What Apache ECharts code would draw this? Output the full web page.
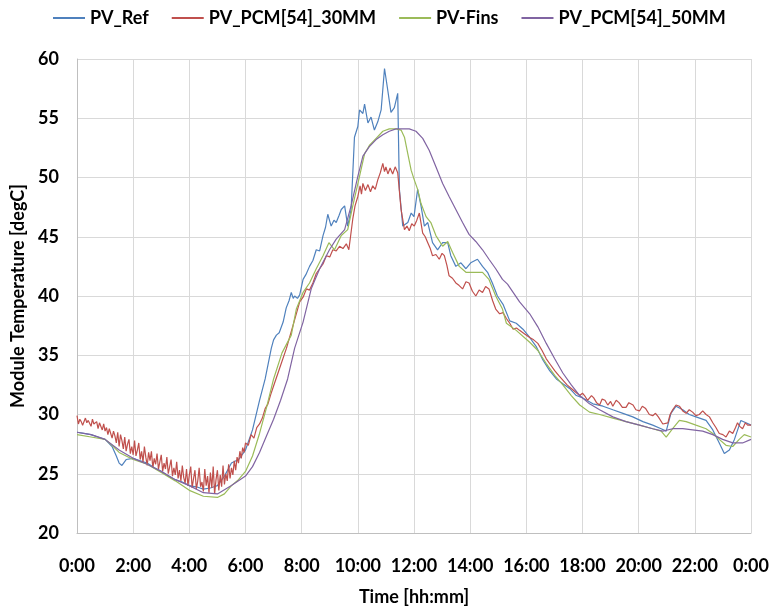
<!DOCTYPE html>
<html><head><meta charset="utf-8">
<script src="https://cdn.jsdelivr.net/npm/echarts@6/dist/echarts.min.js"></script>
<style>html,body{margin:0;padding:0;background:#fff}#c{width:774px;height:612px}</style>
</head><body><div id="c"></div>
<script>
const seriesNames = ['PV_Ref', 'PV_PCM[54]_30MM', 'PV-Fins', 'PV_PCM[54]_50MM'];
const xTicks = ['0:00','2:00','4:00','6:00','8:00','10:00','12:00','14:00','16:00','18:00','20:00','22:00','0:00'];

// [hours, degC]
const pvRef = [[0,28.5],[0.25,28.4],[0.5,28.3],[0.75,28.1],[1,27.9],[1.25,27.3],[1.4,26.5],[1.5,25.9],[1.6,25.7],[1.75,26.2],[2,26.3],[2.25,26.1],[2.5,25.9],[2.75,25.5],[3,25.2],[3.25,24.8],[3.5,24.5],[3.75,24.3],[4,24.0],[4.25,23.9],[4.5,23.7],[4.75,23.8],[5,24.0],[5.25,24.8],[5.5,25.9],[5.75,26.2],[6,27.0],[6.25,28.7],[6.5,31.2],[6.7,33.0],[6.92,35.6],[7.0,36.3],[7.1,36.7],[7.2,36.9],[7.34,37.8],[7.45,39.0],[7.55,39.6],[7.63,40.3],[7.7,39.8],[7.75,40.0],[7.85,39.8],[7.93,40.1],[8.05,41.4],[8.15,41.8],[8.28,42.5],[8.4,43.0],[8.52,43.9],[8.64,43.8],[8.76,45.1],[8.85,45.8],[8.93,46.9],[9.05,45.9],[9.15,46.4],[9.23,46.2],[9.33,46.8],[9.41,47.3],[9.53,47.6],[9.64,45.9],[9.76,47.3],[9.88,53.4],[10.0,54.3],[10.06,55.7],[10.18,55.4],[10.24,56.2],[10.36,54.6],[10.47,55.1],[10.59,54.0],[10.71,54.7],[10.83,55.7],[10.95,59.2],[11.07,57.3],[11.18,55.5],[11.3,55.9],[11.42,57.1],[11.48,49.0],[11.6,45.9],[11.78,46.2],[11.9,47.0],[12.0,46.7],[12.13,49.0],[12.25,47.6],[12.37,45.9],[12.49,46.2],[12.66,44.5],[12.84,43.9],[13.02,44.5],[13.2,44.5],[13.31,43.4],[13.49,42.5],[13.67,42.8],[13.85,42.3],[14.02,42.8],[14.26,43.1],[14.44,42.5],[14.62,42.0],[14.79,41.1],[14.97,40.0],[15.17,39.3],[15.41,37.9],[15.64,37.7],[15.88,37.2],[16.12,36.5],[16.36,35.7],[16.59,34.6],[16.83,33.7],[17.07,33.0],[17.3,32.6],[17.54,32.2],[17.78,31.6],[18.01,31.4],[18.37,30.9],[18.73,30.7],[19.08,30.4],[19.44,30.1],[19.79,29.8],[20.15,29.4],[20.5,29.1],[20.8,28.8],[20.98,28.6],[21.15,30.1],[21.33,30.7],[21.57,30.4],[21.8,30.0],[22.04,29.8],[22.4,29.5],[22.64,28.7],[22.87,27.6],[23.05,26.7],[23.23,27.0],[23.41,27.9],[23.64,29.5],[23.82,29.3],[24,29.1]];

const pvPcm30 = [[0,29.9],[0.05,29.2],[0.1,29.6],[0.15,29.4],[0.2,29.1],[0.3,29.7],[0.35,29.3],[0.4,29.5],[0.5,29.0],[0.55,29.6],[0.6,29.2],[0.7,29.4],[0.75,28.8],[0.8,29.3],[0.9,28.7],[0.95,29.2],[1.0,28.6],[1.05,28.9],[1.1,28.3],[1.15,28.8],[1.2,28.9],[1.25,28.0],[1.3,28.6],[1.35,28.2],[1.4,27.6],[1.45,28.5],[1.5,27.3],[1.55,28.3],[1.6,27.8],[1.65,27.1],[1.7,28.1],[1.75,26.9],[1.8,27.5],[1.85,27.9],[1.9,26.7],[1.95,27.3],[2.0,26.6],[2.05,27.8],[2.1,26.5],[2.15,27.0],[2.2,27.6],[2.25,26.2],[2.3,26.9],[2.35,26.0],[2.4,27.3],[2.45,26.4],[2.5,25.7],[2.55,26.8],[2.6,26.1],[2.65,26.9],[2.7,25.5],[2.75,26.3],[2.8,25.8],[2.85,26.7],[2.9,25.4],[2.95,26.0],[3.0,26.6],[3.05,25.2],[3.1,25.9],[3.15,25.4],[3.2,26.4],[3.25,25.0],[3.3,25.6],[3.35,26.2],[3.4,24.8],[3.45,25.5],[3.5,24.9],[3.55,26.0],[3.6,24.6],[3.65,25.3],[3.7,24.4],[3.75,25.7],[3.8,24.7],[3.85,24.2],[3.9,25.4],[3.95,24.0],[4.0,24.9],[4.05,25.6],[4.1,23.8],[4.15,24.6],[4.2,25.3],[4.25,23.7],[4.3,24.4],[4.35,25.5],[4.4,23.9],[4.45,24.3],[4.5,23.5],[4.55,25.4],[4.6,24.0],[4.65,24.8],[4.7,23.4],[4.75,25.1],[4.8,23.8],[4.85,25.6],[4.9,23.3],[4.95,24.5],[5.0,25.3],[5.05,23.6],[5.1,24.9],[5.15,23.9],[5.2,25.7],[5.25,24.1],[5.3,25.0],[5.35,24.4],[5.4,25.8],[5.45,24.6],[5.5,25.5],[5.55,24.9],[5.6,26.1],[5.65,25.3],[5.7,26.4],[5.75,25.9],[5.8,26.9],[5.85,26.3],[5.9,27.2],[5.95,26.8],[6.0,27.6],[6.1,27.4],[6.2,28.3],[6.3,28.0],[6.4,28.9],[6.5,29.2],[6.6,29.7],[6.7,30.5],[6.8,30.9],[6.9,31.7],[7.0,32.4],[7.2,33.8],[7.46,35.6],[7.69,37.5],[7.93,39.5],[8.05,39.9],[8.17,40.6],[8.28,40.5],[8.4,41.1],[8.52,41.9],[8.64,42.3],[8.76,42.7],[8.88,43.4],[9.0,43.3],[9.11,43.9],[9.23,43.8],[9.35,44.2],[9.47,44.0],[9.59,44.4],[9.68,43.9],[9.82,46.5],[9.9,47.6],[10.0,48.4],[10.08,49.3],[10.13,48.6],[10.18,49.5],[10.27,48.9],[10.36,49.4],[10.45,48.8],[10.53,49.3],[10.62,49.0],[10.71,49.8],[10.8,50.4],[10.89,51.2],[10.95,50.5],[11.0,50.9],[11.07,50.3],[11.15,50.8],[11.24,50.3],[11.33,50.9],[11.42,50.4],[11.54,47.3],[11.66,45.6],[11.75,45.9],[11.83,45.5],[11.92,46.1],[12.01,45.9],[12.1,46.4],[12.19,47.0],[12.31,45.3],[12.4,45.0],[12.49,44.5],[12.58,44.0],[12.66,43.4],[12.78,43.5],[12.9,43.1],[13.0,43.6],[13.08,43.4],[13.17,42.6],[13.25,41.7],[13.37,41.5],[13.49,41.1],[13.6,40.9],[13.73,40.6],[13.85,41.2],[13.96,41.1],[14.08,40.4],[14.2,40.0],[14.32,40.5],[14.44,40.3],[14.55,40.8],[14.67,40.6],[14.8,39.6],[14.91,38.9],[15.05,38.5],[15.17,38.6],[15.29,38.1],[15.41,37.7],[15.53,37.2],[15.65,37.3],[15.76,37.1],[15.94,36.8],[16.12,36.5],[16.26,36.3],[16.41,36.0],[16.56,35.4],[16.71,34.7],[16.86,34.2],[17.01,33.7],[17.15,33.3],[17.3,32.9],[17.45,32.5],[17.6,32.2],[17.75,31.9],[17.9,31.6],[18.0,31.8],[18.1,31.5],[18.18,31.2],[18.25,31.1],[18.32,31.6],[18.4,31.4],[18.5,31.0],[18.61,30.8],[18.7,31.3],[18.8,31.2],[18.9,30.8],[19.0,31.1],[19.08,30.7],[19.2,31.2],[19.3,31.0],[19.42,30.6],[19.55,30.6],[19.65,31.0],[19.8,30.8],[19.9,30.4],[20.03,30.3],[20.13,30.7],[20.25,30.5],[20.38,30.0],[20.5,29.9],[20.6,30.1],[20.7,29.8],[20.86,29.2],[21.04,29.3],[21.12,30.0],[21.21,30.4],[21.33,30.8],[21.45,30.7],[21.57,30.3],[21.69,30.1],[21.8,30.4],[21.92,30.2],[22.04,29.9],[22.16,30.0],[22.28,30.3],[22.4,30.0],[22.52,29.8],[22.64,29.3],[22.75,28.9],[22.87,28.4],[23.0,28.3],[23.11,28.1],[23.23,28.6],[23.35,28.4],[23.45,28.9],[23.52,29.3],[23.6,29.0],[23.7,28.8],[23.8,29.3],[23.88,29.1],[24,29.1]];

const pvFins = [[0,28.3],[0.5,28.1],[1,27.9],[1.25,27.4],[1.5,26.8],[1.75,26.5],[2,26.2],[2.5,25.8],[3,25.1],[3.5,24.4],[4,23.6],[4.5,23.1],[5,23.0],[5.25,23.3],[5.5,24.0],[5.75,24.5],[6,25.2],[6.25,26.5],[6.5,28.4],[6.75,30.6],[7,33.0],[7.3,35.2],[7.63,36.7],[7.81,38.9],[8.05,40.3],[8.28,41.1],[8.52,42.3],[8.76,43.4],[8.97,44.5],[9.17,43.9],[9.41,45.1],[9.64,45.6],[9.82,47.6],[10.06,50.1],[10.24,52.0],[10.41,52.7],[10.65,53.3],[10.89,53.9],[11.12,54.1],[11.36,54.1],[11.54,54.0],[11.66,53.4],[11.78,52.0],[11.9,50.6],[12.01,49.8],[12.13,49.0],[12.25,47.8],[12.43,46.7],[12.6,46.2],[12.78,45.1],[13.02,44.2],[13.2,44.6],[13.37,43.7],[13.61,42.5],[13.85,42.0],[14.08,42.0],[14.44,42.0],[14.67,41.4],[14.91,40.0],[15.15,38.9],[15.29,37.7],[15.64,37.1],[16.12,36.1],[16.41,35.4],[16.71,34.3],[17.01,33.3],[17.3,32.5],[17.6,31.6],[17.9,30.8],[18.25,30.2],[18.61,30.0],[19.08,29.7],[19.55,29.4],[20.03,29.1],[20.5,28.8],[20.8,28.6],[20.98,28.1],[21.21,28.8],[21.45,29.5],[21.69,29.4],[22.04,29.1],[22.4,28.8],[22.64,28.4],[22.87,27.9],[23.11,27.4],[23.35,27.3],[23.58,27.9],[23.76,28.3],[24,28.1]];

const pvPcm50 = [[0,28.5],[0.5,28.3],[1,27.9],[1.5,27.0],[2,26.3],[2.5,25.8],[3,25.2],[3.5,24.5],[4,24.0],[4.5,23.4],[5,23.3],[5.5,24.0],[6,24.8],[6.25,25.6],[6.5,26.8],[6.75,28.2],[7,29.6],[7.25,31.2],[7.5,33.0],[7.75,35.6],[8.05,37.8],[8.34,40.6],[8.64,42.3],[8.99,43.9],[9.23,44.8],[9.53,45.6],[9.76,47.6],[10.0,50.1],[10.18,51.8],[10.41,52.6],[10.65,53.2],[10.89,53.6],[11.12,53.9],[11.36,54.1],[11.6,54.1],[11.83,54.1],[12.07,53.9],[12.31,53.3],[12.54,52.3],[12.78,50.9],[13.02,49.5],[13.25,48.4],[13.49,47.3],[13.73,46.2],[13.96,45.2],[14.2,44.6],[14.44,43.9],[14.67,43.1],[14.91,42.3],[15.15,41.4],[15.33,41.0],[15.76,39.5],[16.12,38.5],[16.41,37.4],[16.71,36.0],[17.01,34.7],[17.3,33.5],[17.6,32.5],[17.9,31.6],[18.25,30.9],[18.61,30.4],[19.08,29.8],[19.55,29.4],[20.03,29.1],[20.5,28.8],[20.86,28.6],[21.21,28.8],[21.57,28.8],[21.92,28.7],[22.28,28.6],[22.64,28.3],[22.99,27.9],[23.35,27.6],[23.7,27.6],[24,27.9]];

const colors = ['#4F81BD', '#C0504D', '#9BBB59', '#8064A2'];
const allData = [pvRef, pvPcm30, pvFins, pvPcm50];

const chart = echarts.init(document.getElementById('c'), null, {renderer: 'canvas'});
const font = 'Lato';
chart.setOption({
  animation: false,
  color: colors,
  legend: {
    top: 4, left: 47,
    itemWidth: 32, itemHeight: 10, itemGap: 22,
    itemStyle: {opacity: 0},
    textStyle: {fontFamily: font, fontSize: 18, fontWeight: 'bold', color: '#000'},
    data: seriesNames
  },
  grid: {left: 77, right: 23, top: 59, bottom: 79},
  xAxis: {
    type: 'value', min: 0, max: 24, interval: 2,
    name: 'Time [hh:mm]', nameLocation: 'middle', nameGap: 55,
    nameTextStyle: {fontFamily: font, fontSize: 18, fontWeight: 'bold', color: '#000'},
    axisLine: {lineStyle: {color: '#bfbfbf', width: 1}},
    axisTick: {show: false},
    axisLabel: {fontFamily: font, fontSize: 18, fontWeight: 'bold', color: '#000', margin: 24,
      formatter: v => xTicks[Math.round(v / 2)]},
    splitLine: {show: true, lineStyle: {color: '#d9d9d9', width: 1}}
  },
  yAxis: {
    type: 'value', min: 20, max: 60, interval: 5,
    name: 'Module Temperature [degC]', nameLocation: 'middle', nameGap: 48,
    nameTextStyle: {fontFamily: font, fontSize: 18, fontWeight: 'bold', color: '#000'},
    axisLine: {show: true, lineStyle: {color: '#bfbfbf', width: 1}},
    axisTick: {show: false},
    axisLabel: {fontFamily: font, fontSize: 18, fontWeight: 'bold', color: '#000', margin: 18},
    splitLine: {show: true, lineStyle: {color: '#d9d9d9', width: 1}}
  },
  series: seriesNames.map((n, i) => ({
    name: n, type: 'line', data: allData[i],
    symbol: 'none', showSymbol: false,
    lineStyle: {width: 1.2, color: colors[i]},
    itemStyle: {color: colors[i]}
  }))
});
</script></body></html>
